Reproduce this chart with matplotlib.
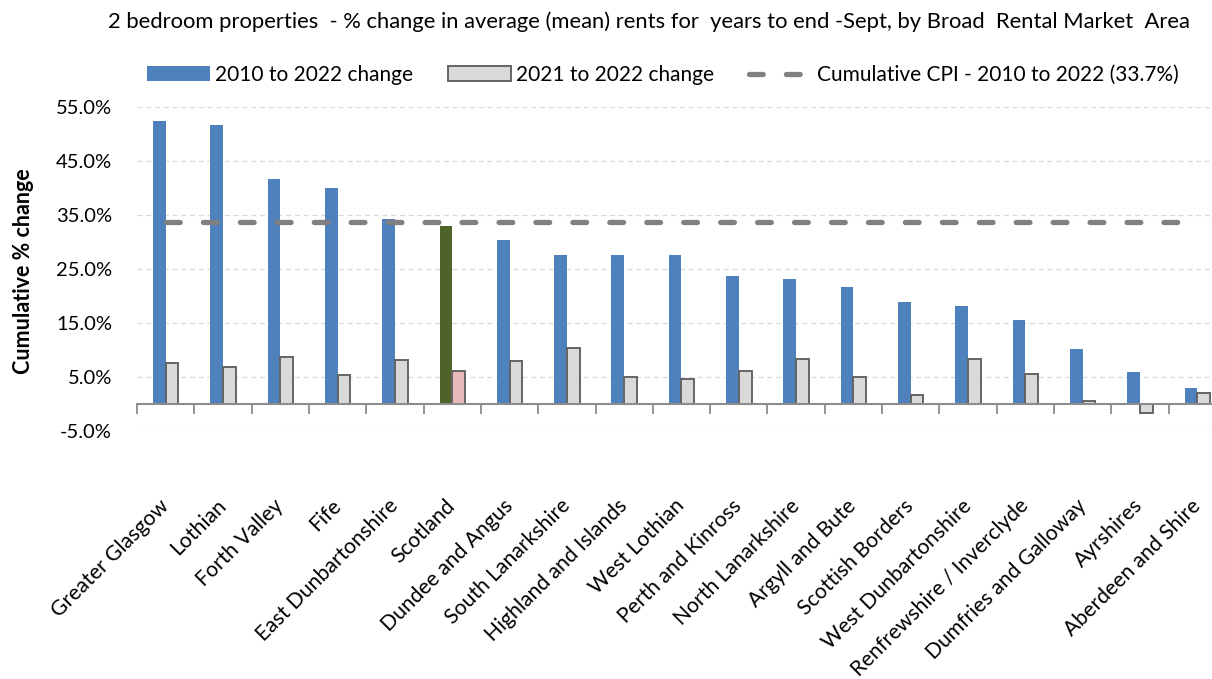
import matplotlib
matplotlib.use("Agg")
import matplotlib.pyplot as plt
import numpy as np
from matplotlib.patches import Patch
from matplotlib.lines import Line2D

plt.rcParams['font.family'] = ['Lato', 'DejaVu Sans']

areas = ["Greater Glasgow", "Lothian", "Forth Valley", "Fife", "East Dunbartonshire",
         "Scotland", "Dundee and Angus", "South Lanarkshire", "Highland and Islands",
         "West Lothian", "Perth and Kinross", "North Lanarkshire", "Argyll and Bute",
         "Scottish Borders", "West Dunbartonshire", "Renfrewshire / Inverclyde",
         "Dumfries and Galloway", "Ayrshires", "Aberdeen and Shire"]
change_2010_2022 = [52.4, 51.6, 41.6, 40.0, 34.2, 32.9, 30.4, 27.6, 27.6, 27.5,
                    23.6, 23.1, 21.6, 18.9, 18.2, 15.5, 10.1, 6.0, 3.0]
change_2021_2022 = [7.6, 6.9, 8.7, 5.3, 8.2, 6.1, 7.9, 10.3, 4.9, 4.7,
                    6.1, 8.3, 5.0, 1.7, 8.3, 5.5, 0.6, -1.7, 2.0]
cpi_2010_2022 = 33.7
yticks = [-5, 5, 15, 25, 35, 45, 55]
highlight = "Scotland"

BLUE = "#4F81BD"
GREY = "#D9D9D9"
EDGE = "#646464"
GREEN = "#4F6228"
PINK = "#E6B9B8"

fig = plt.figure(figsize=(12.12, 6.79), dpi=100)
ax = fig.add_axes([137/1212, (679-431)/679, 1089/1212, (431-106.7)/679])

x = np.arange(len(areas))
w = 0.222
c1 = [GREEN if a == highlight else BLUE for a in areas]
c2 = [PINK if a == highlight else GREY for a in areas]
ax.bar(x - w/2, change_2010_2022, width=w, color=c1, edgecolor='none', zorder=3)
ax.bar(x + w/2, change_2021_2022, width=w, color=c2, edgecolor=EDGE, linewidth=1.4, zorder=3)

ax.plot(x, [cpi_2010_2022]*len(x), color="#808080", lw=3.8, dash_capstyle='round',
        linestyle=(0, (2.6, 4.4)), zorder=4)

ax.set_xlim(-0.5, len(areas) - 0.5)
ax.set_ylim(-5, 55)
ax.set_yticks(yticks)
ax.set_yticklabels([f"{v:.1f}%" for v in yticks], fontsize=14.5)
ax.tick_params(axis='y', length=0, pad=18)
ax.yaxis.grid(True, color="#D9D9D9", linestyle=(0, (4, 3)), linewidth=0.9, zorder=0)

for s in ['top', 'right', 'left']:
    ax.spines[s].set_visible(False)
ax.spines['bottom'].set_position(('data', 0))
ax.spines['bottom'].set_color('#8C8C8C')
ax.spines['bottom'].set_linewidth(1.5)
ax.spines['bottom'].set_zorder(5)

ax.set_xticks(x)
ax.set_xticklabels(areas, rotation=45, ha='right', va='center', rotation_mode='anchor', fontsize=15.2)
ax.tick_params(axis='x', which='major', length=0, pad=71)
ax.set_xticks(np.arange(-0.5, len(areas), 1.0), minor=True)
ax.tick_params(axis='x', which='minor', length=7, width=1.3, color='#8C8C8C', direction='out')

ax.set_ylabel("Cumulative % change", fontsize=15.5, fontweight='bold')
ax.yaxis.set_label_coords(-0.095, 0.493)

fig.text(649/1212, 1 - 22/679, "2 bedroom properties  - % change in average (mean) rents for  years to end -Sept, by Broad  Rental Market  Area",
         ha='center', va='center', fontsize=15.8)

handles = [Patch(facecolor=BLUE, edgecolor='none'),
           Patch(facecolor=GREY, edgecolor=EDGE, linewidth=1.4),
           Line2D([0], [0], color="#808080", lw=3.8, linestyle=(0, (2.6, 4.4)), dash_capstyle='round')]
labels = ["2010 to 2022 change", "2021 to 2022 change", "Cumulative CPI - 2010 to 2022 (33.7%)"]
fig.legend(handles, labels, loc='center', bbox_to_anchor=(663/1212, 1 - 75/679), ncol=3,
           frameon=False, fontsize=15, handlelength=3.0, handleheight=0.75,
           columnspacing=1.7, handletextpad=0.25)

fig.savefig("out.png", dpi=100)
